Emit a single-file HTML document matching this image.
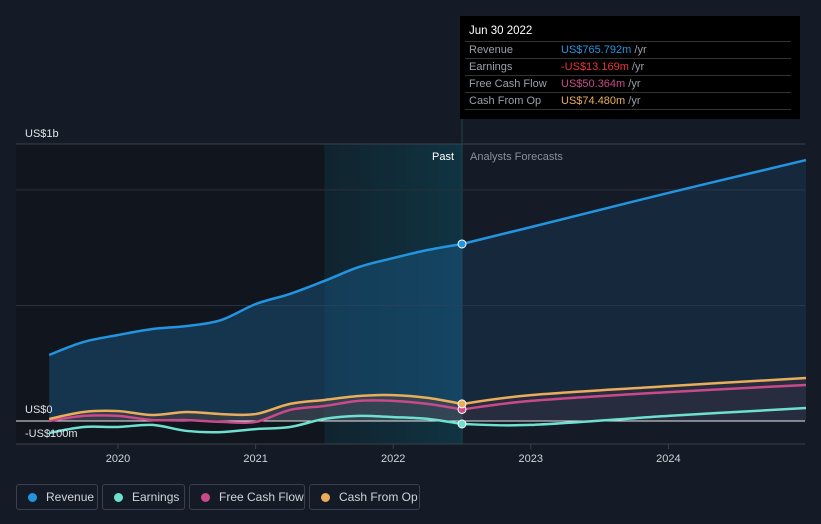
<!DOCTYPE html>
<html><head><meta charset="utf-8"><style>
body{margin:0;background:#151b26;font-family:"Liberation Sans",sans-serif;}
#wrap{position:relative;width:821px;height:524px;overflow:hidden;background:#151b26;}
svg{position:absolute;left:0;top:0}
.leg{position:absolute;top:484px;height:26px;border:1px solid #3a404c;border-radius:3px;box-sizing:border-box;color:#d0d3d8;font-size:12px;line-height:25px;padding-left:29px}
.leg i{position:absolute;left:11px;top:8px;width:9px;height:9px;border-radius:50%}
#tip{position:absolute;left:460px;top:16px;width:340px;height:103px;background:#000;color:#fff;font-size:11px}
#tip .h{position:absolute;left:9px;top:9px;font-size:11.5px}
#tip .r{position:absolute;left:5px;width:326px;height:17px;border-top:1px solid #333;color:#9aa0a8;line-height:17px;padding-left:4px;box-sizing:border-box}
#tip .r span{position:absolute;left:96px}
#tip .r b{font-weight:normal}
</style></head><body>
<div id="wrap">
<svg id="c" width="821" height="524"></svg>
<div id="tip">
<div class="h">Jun 30 2022</div>
<div class="r" style="top:25px">Revenue<span><b style="color:#2394df">US$765.792m</b> /yr</span></div>
<div class="r" style="top:42px">Earnings<span><b style="color:#e8383d">-US$13.169m</b> /yr</span></div>
<div class="r" style="top:59px">Free Cash Flow<span><b style="color:#c94a8a">US$50.364m</b> /yr</span></div>
<div class="r" style="top:76px;border-bottom:1px solid #333;height:18px">Cash From Op<span><b style="color:#e9ad5b">US$74.480m</b> /yr</span></div>
</div>
<div class="leg" style="left:16px;width:82px"><i style="background:#2394df"></i>Revenue</div>
<div class="leg" style="left:102px;width:83px"><i style="background:#6ee0d0"></i>Earnings</div>
<div class="leg" style="left:189px;width:116px"><i style="background:#c94a8a"></i>Free Cash Flow</div>
<div class="leg" style="left:309px;width:111px"><i style="background:#e9ad5b"></i>Cash From Op</div>
</div>
<script>
const dates=[2019.5,2019.75,2020,2020.25,2020.5,2020.75,2021,2021.25,2021.5,2021.75,2022,2022.25,2022.5];
const fdates=[2022.5,2023,2024,2025];
const revenue=[286,342,372,398,411,437,506,550,606,666,705,740,766];
const revenueF=[766,839,987,1129];
const earnings=[-52,-26,-26,-17,-43,-48,-35,-26,9,22,17,9,-13];
const earningsF=[-13,-17,22,56];
const fcf=[0,22,22,4,4,-4,-4,48,65,87,87,74,50];
const fcfF=[50,87,125,156];
const cfo=[9,39,43,26,39,30,30,74,91,108,112,100,74];
const cfoF=[74,112,151,186];
const yTicks=[{v:1000,l:"US$1b"},{v:0,l:"US$0"},{v:-100,l:"-US$100m"}];
const xTicks=[2020,2021,2022,2023,2024];
const X=t=>118+(t-2020)*137.6;
const Y=v=>421-v*0.2311;
const svg=document.getElementById('c');const NS='http://www.w3.org/2000/svg';
function el(tag,attrs,name,parent){const e=document.createElementNS(NS,tag);for(const k in attrs)e.setAttribute(k,attrs[k]);


(parent||svg).appendChild(e);return e;}
function path(ds,vs){const p=ds.map((d,i)=>[X(d),Y(vs[i])]);let s='M'+p[0][0]+','+p[0][1];
for(let i=0;i<p.length-1;i++){const p0=p[i-1]||p[i],p1=p[i],p2=p[i+1],p3=p[i+2]||p2;
s+=' C'+(p1[0]+(p2[0]-p0[0])/6)+','+(p1[1]+(p2[1]-p0[1])/6)+' '+(p2[0]-(p3[0]-p1[0])/6)+','+(p2[1]-(p3[1]-p1[1])/6)+' '+p2[0]+','+p2[1];}return s;}
const defs=el('defs',{},'defs');
defs.innerHTML='<linearGradient id="hl" x1="0" x2="1"><stop offset="0" stop-color="#0d2a35" stop-opacity="0.6"/><stop offset="1" stop-color="#0e3a4a" stop-opacity="0.8"/></linearGradient>';
const xPast=X(2022.5), xEnd=X(2025);
el('rect',{x:16,y:144,width:X(2021.5)-16,height:300,fill:'#11151d'},'past-shade');
el('rect',{x:X(2021.5),y:144,width:xPast-X(2021.5),height:300,fill:'url(#hl)'},'highlight-region');
el('line',{x1:xPast,y1:16,x2:xPast,y2:444,stroke:'#1e4450','stroke-width':1},'cursor-line');
[1000,500].forEach(v=>el('line',{x1:16,x2:805,y1:Y(v),y2:Y(v),stroke:'#2a303a'},'gridline'));
el('line',{x1:16,x2:805,y1:144,y2:144,stroke:'#3a404a'},'top-gridline');
el('line',{x1:16,x2:805,y1:444,y2:444,stroke:'#3a404a'},'x-axis-line');
const rp=path(dates,revenue), rfp=path(fdates,revenueF);
el('path',{d:rp+' L'+xPast+','+Y(0)+' L'+X(2019.5)+','+Y(0)+'Z',fill:'#1b5a8a','fill-opacity':0.45},'revenue-area-past');
el('path',{d:rfp+' L'+xEnd+','+Y(0)+' L'+xPast+','+Y(0)+'Z',fill:'#1b4a70','fill-opacity':0.3},'revenue-area-forecast');
el('path',{d:path(dates,cfo)+' L'+xPast+','+Y(0)+' L'+X(2019.5)+','+Y(0)+'Z',fill:'#6a4a40','fill-opacity':0.35},'cfo-area');
el('path',{d:path(fdates,cfoF)+' L'+xEnd+','+Y(0)+' L'+xPast+','+Y(0)+'Z',fill:'#5a3a44','fill-opacity':0.25},'cfo-area-forecast');
el('line',{x1:16,x2:805,y1:Y(0),y2:Y(0),stroke:'#e8e8e8','stroke-width':1},'zero-line');
const series=[[earnings,earningsF,'#6ee0d0','earnings'],[fcf,fcfF,'#c94a8a','free-cash-flow'],[cfo,cfoF,'#e9ad5b','cash-from-op'],[revenue,revenueF,'#2394df','revenue']];
series.forEach(s=>{el('path',{d:path(dates,s[0]),fill:'none',stroke:s[2],'stroke-width':2.5},s[3]+'-line');
el('path',{d:path(fdates,s[1]),fill:'none',stroke:s[2],'stroke-width':2.5},s[3]+'-forecast-line');});
series.forEach(s=>el('circle',{cx:xPast,cy:Y(s[0][s[0].length-1]),r:4,fill:s[2],stroke:'#fff','stroke-width':1},s[3]+'-marker'));
const yLabelY={1000:137,0:413,"-100":437};
yTicks.forEach(t=>{const e=el('text',{x:25,y:yLabelY[t.v],fill:'#e0e2e6','font-size':11},'y-tick-label');e.textContent=t.l;});
xTicks.forEach(t=>{el('line',{x1:X(t),x2:X(t),y1:444,y2:449,stroke:'#3a404a'},'x-tick');const e=el('text',{x:X(t),y:462,fill:'#d0d3d8','font-size':11,'text-anchor':'middle'},'x-tick-label');e.textContent=t;});
let e=el('text',{x:xPast-8,y:160,fill:'#fff','font-size':11,'text-anchor':'end'},'past-label');e.textContent='Past';
e=el('text',{x:xPast+8,y:160,fill:'#8a9099','font-size':11},'forecast-label');e.textContent='Analysts Forecasts';
</script>
</body></html>
